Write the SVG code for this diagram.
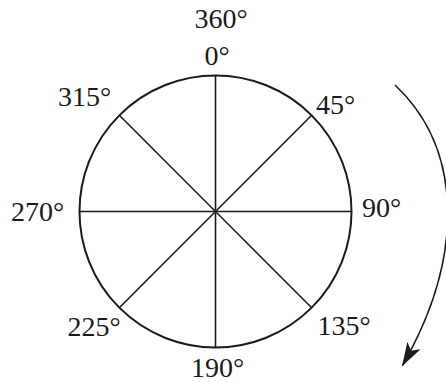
<svg xmlns="http://www.w3.org/2000/svg" width="446" height="382" viewBox="0 0 446 382">
<style>
  .lbl { font-family: "Liberation Serif", "Times New Roman", serif; font-size: 28px; fill: #1a1a1a; text-anchor: middle; }
  .ln { stroke: #1a1a1a; stroke-width: 1.6; fill: none; }
  .circ { stroke: #1a1a1a; stroke-width: 2; fill: none; }
</style>
<defs>
  <marker id="ah" viewBox="0 0 24 15" refX="23" refY="7.5" markerWidth="24" markerHeight="15" markerUnits="userSpaceOnUse" orient="auto">
    <path d="M0,0 L24,7.5 L0,15 L6,7.5 Z" fill="#1a1a1a"/>
  </marker>
</defs>
<rect width="446" height="382" fill="#ffffff"/>
<g id="circle">
  <circle class="circ" cx="215.5" cy="211.5" r="136"/>
</g>
<g id="connectors">
  <line class="ln" x1="215.5" y1="75.5" x2="215.5" y2="347.5"/>
  <line class="ln" x1="79.5" y1="211.5" x2="351.5" y2="211.5"/>
  <line class="ln" x1="119.3" y1="115.3" x2="311.7" y2="307.7"/>
  <line class="ln" x1="311.7" y1="115.3" x2="119.3" y2="307.7"/>
  <path class="ln" d="M395,85 C464,150 464,258 402.5,365.5" marker-end="url(#ah)"/>
</g>
<g id="labels">
  <text class="lbl" x="221" y="28">360°</text>
  <text class="lbl" x="217" y="65">0°</text>
  <text class="lbl" x="335.5" y="114">45°</text>
  <text class="lbl" x="381.5" y="217">90°</text>
  <text class="lbl" x="344" y="335">135°</text>
  <text class="lbl" x="217.5" y="377">190°</text>
  <text class="lbl" x="94" y="336">225°</text>
  <text class="lbl" x="37.5" y="221">270°</text>
  <text class="lbl" x="84.5" y="106">315°</text>
</g>
</svg>
